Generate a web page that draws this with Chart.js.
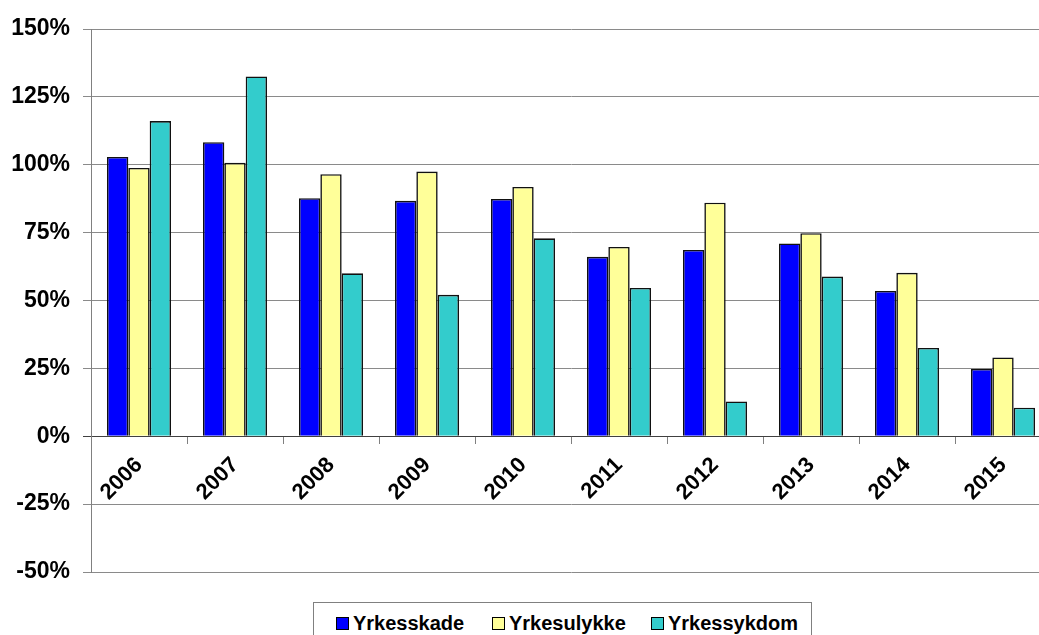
<!DOCTYPE html>
<html>
<head>
<meta charset="utf-8">
<script src="https://cdn.jsdelivr.net/npm/chart.js@4/dist/chart.umd.min.js"></script>
<style>
  html, body { margin: 0; padding: 0; background: #fff; overflow: hidden; width: 1039px; height: 635px; }
  #wrap { position: absolute; left: 0; top: 0; width: 1051px; height: 635px; }
  #legend { position: absolute; left: 313px; top: 602px; width: 497px; height: 40px;
    border: 1px solid #808080; background: #fff; font-family: "Liberation Sans", Arial, sans-serif;
    font-weight: bold; font-size: 20px; color: #000; }
  .item { position: absolute; top: 8px; height: 24px; line-height: 24px; white-space: nowrap; }
  .sw { display: inline-block; width: 11px; height: 11px; border: 1px solid #000; margin-right: 4px; vertical-align: 0px; }
</style>
</head>
<body>
<div id="wrap"><canvas id="c"></canvas></div>
<div id="legend"></div>
<script>
const categories = ["2006","2007","2008","2009","2010","2011","2012","2013","2014","2015"];
const seriesNames = ["Yrkesskade","Yrkesulykke","Yrkessykdom"];
const yrkesskade  = [102.9, 108.3, 87.7, 86.7, 87.4, 66.1, 68.6, 71.0, 53.5, 24.8];
const yrkesulykke = [98.8, 100.7, 96.5, 97.5, 91.8, 69.7, 86.0, 74.8, 60.2, 29.0];
const yrkessykdom = [116.1, 132.5, 60.0, 52.1, 72.9, 54.6, 12.8, 58.8, 32.5, 10.5];
const yTicks = [-50, -25, 0, 25, 50, 75, 100, 125, 150];
const colors = ["#0000FF", "#FFFF99", "#33CCCC"];

const FONT = "'Liberation Sans', Arial, sans-serif";
const seriesData = [yrkesskade, yrkesulykke, yrkessykdom];

const chart = new Chart(document.getElementById('c'), {
  type: 'bar',
  data: {
    labels: categories,
    datasets: seriesNames.map((n, i) => ({
      label: n,
      data: seriesData[i],
      backgroundColor: colors[i],
      borderColor: '#111',
      borderWidth: 1.6,
      categoryPercentage: 0.667,
      barPercentage: 1.0
    }))
  },
  options: {
    responsive: true,
    maintainAspectRatio: false,
    animation: false,
    layout: { padding: { top: 29, bottom: 63, left: 0, right: 0 } },
    plugins: { legend: { display: false }, tooltip: { enabled: false } },
    scales: {
      x: {
        position: { y: 0 },
        grid: { display: true, drawOnChartArea: false, drawTicks: true, tickLength: 7, color: '#808080', offset: true },
        border: { display: true, color: '#404040', width: 1 },
        ticks: { minRotation: 45, maxRotation: 45, autoSkip: false, color: '#000', padding: 9,
          font: { family: FONT, size: 22, weight: 'bold' } }
      },
      y: {
        min: -50, max: 150,
        afterBuildTicks: (s) => { s.ticks = yTicks.map(v => ({ value: v })); },
        afterFit: (s) => { s.width = 91; },
        grid: { color: (ctx) => (ctx.tick && ctx.tick.value === 0) ? '#404040' : '#8a8a8a', tickLength: 8, lineWidth: 1 },
        border: { display: true, color: '#808080', width: 1 },
        ticks: { color: '#000', padding: 13, callback: (v) => v + '%',
          font: { family: FONT, size: 23, weight: 'bold' } }
      }
    }
  }
});

// legend
const lg = document.getElementById('legend');
const lefts = [22, 178, 337];
seriesNames.forEach((n, i) => {
  const d = document.createElement('div');
  d.className = 'item';
  d.style.left = lefts[i] + 'px';
  const sw = document.createElement('span');
  sw.className = 'sw';
  sw.style.background = colors[i];
  d.appendChild(sw);
  d.appendChild(document.createTextNode(n));
  lg.appendChild(d);
});
</script>
</body>
</html>
